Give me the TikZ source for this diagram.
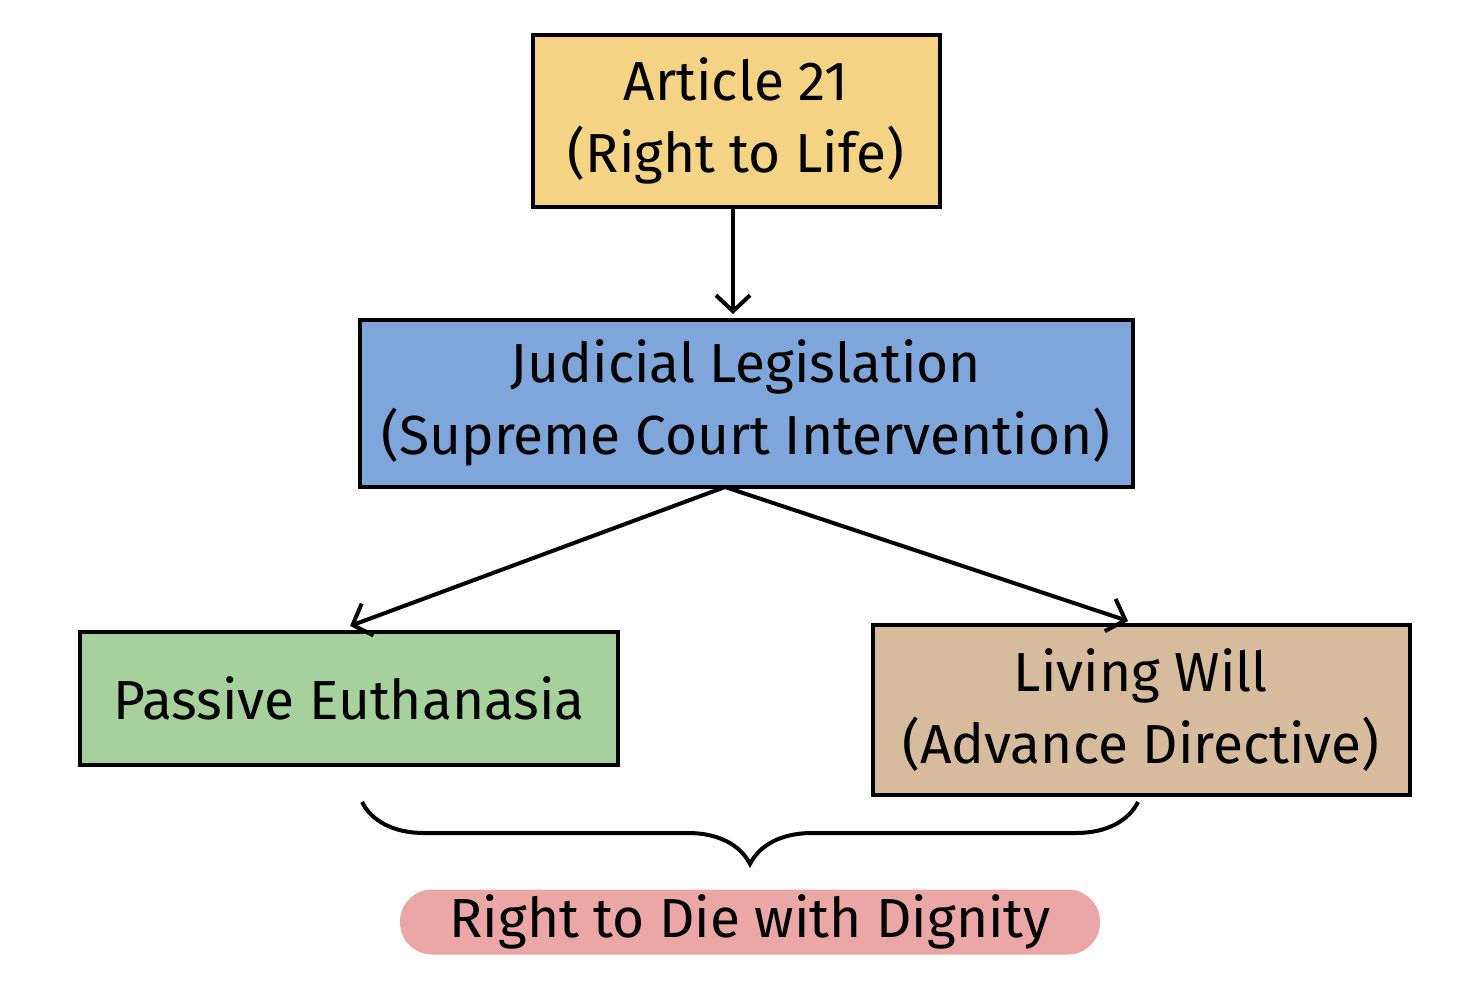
\documentclass[tikz,border=0pt]{standalone}
\usepackage{fontspec}
\setmainfont{Fira Sans}
\usetikzlibrary{decorations.pathreplacing,arrows.meta}
\definecolor{cy}{HTML}{F5D385}
\definecolor{cb}{HTML}{7FA6DA}
\definecolor{cg}{HTML}{A6D19C}
\definecolor{ct}{HTML}{D6BC9C}
\definecolor{cp}{HTML}{EBA6A6}
\begin{document}
\begin{tikzpicture}[x=1pt,y=-1pt,
  box/.style={draw=black,line width=4pt,align=center,inner sep=0pt,font=\fontsize{55}{72}\selectfont},
  arr/.style={line width=4pt,-{Straight Barb[length=16pt,width=34pt]}}]
\useasboundingbox (0,0) rectangle (1468,998);
\fill[white] (0,0) rectangle (1468,998);
\node[box,fill=cy,minimum width=407pt,minimum height=172pt] (a) at (736,121) {Article 21\\(Right to Life)};
\node[box,fill=cb,minimum width=773pt,minimum height=167pt] (j) at (746,403) {Judicial Legislation\\(Supreme Court Intervention)};
\node[box,fill=cg,minimum width=538pt,minimum height=133pt] (p) at (349,698) {Passive Euthanasia};
\node[box,fill=ct,minimum width=537pt,minimum height=170pt] (l) at (1141,710) {Living Will\\(Advance Directive)};
\node[fill=cp,rounded corners=32pt,minimum width=700pt,minimum height=65pt,inner sep=0pt,font=\fontsize{55}{60}\selectfont] (r) at (750,922) {Right to Die with Dignity};
\draw[arr] (733,207) -- (733,314);
\coordinate (jb) at (725,487);
\draw[arr] (jb) -- (350,626);
\draw[arr] (jb) -- (1128,621);
\draw[line width=4pt,decorate,decoration={brace,mirror,amplitude=62pt,aspect=0.5}] (362,802) -- (1138,802);
\end{tikzpicture}
\end{document}
